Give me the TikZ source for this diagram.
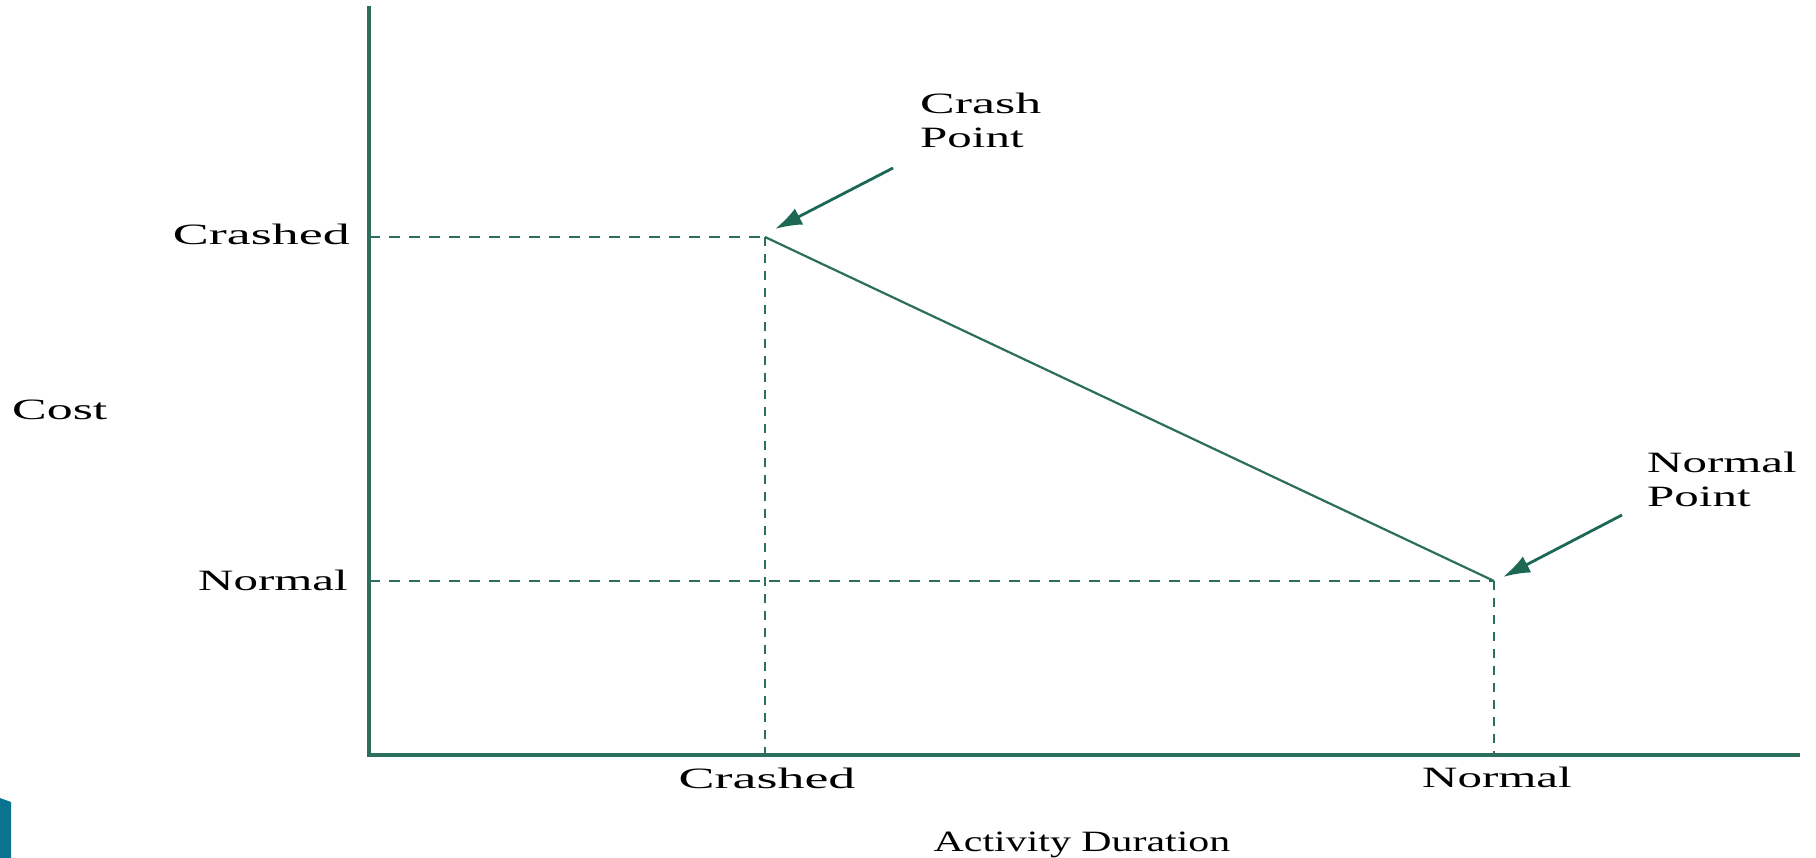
\documentclass[tikz,border=0pt]{standalone}
\usepackage{fontspec}
\newfontfamily\widefont[FakeStretch=1.83]{Liberation Serif}
\newfontfamily\midfont[FakeStretch=1.76]{Liberation Serif}
\newfontfamily\narrowfont[FakeStretch=1.66]{Liberation Serif}
\newfontfamily\titlefont[FakeStretch=1.42]{Liberation Serif}
\usetikzlibrary{arrows.meta}
\definecolor{axisgreen}{RGB}{44,110,92}
\definecolor{arrowgreen}{RGB}{28,104,84}
\definecolor{slideteal}{RGB}{10,116,144}
\tikzset{
  lbl/.style={font=\fontsize{29.5}{34}\selectfont, text=black, inner sep=0pt},
  axisline/.style={draw=axisgreen, line width=3.2pt},
  costline/.style={draw=axisgreen, line width=2.2pt},
  guideh/.style={draw=axisgreen, line width=2pt, dash pattern=on 11pt off 9pt},
  guidev/.style={draw=axisgreen, line width=2.2pt, dash pattern=on 9pt off 8pt},
  pointer/.style={draw=arrowgreen, line width=2.8pt, -{Latex[length=27pt,width=18pt]}}
}
\begin{document}
\begin{tikzpicture}[x=1pt,y=-1pt]
\useasboundingbox (0,0) rectangle (1816,858);
% corner tab of the slide
\fill[slideteal] (0,798) -- (11,802) -- (11,858) -- (0,858) -- cycle;

% key points
\coordinate (O) at (369,755);
\coordinate (ytop) at (369,8);
\coordinate (xend) at (1798,755);
\coordinate (crash) at (765,237);
\coordinate (normal) at (1494,581);
\coordinate (crashY) at (369,237);
\coordinate (normalY) at (369,581);
\coordinate (crashX) at (765,755);
\coordinate (normalX) at (1494,755);

% guide lines
\draw[guideh] (crashY) -- (crash);
\draw[guideh] (normalY) -- (normal);
\draw[guidev] (crash) -- (crashX);
\draw[guidev] (normal) -- (normalX);

% axes
\draw[axisline, line cap=rect] (ytop) -- (O) -- (xend);

% cost-time line
\draw[costline] (crash) -- (normal);

% axis labels
\node[lbl, anchor=base east] (ycrash) at (350,245) {\widefont Crashed};
\node[lbl, anchor=base east] (ynormal) at (348,590) {\narrowfont Normal};
\node[lbl, anchor=base west] (cost) at (12,420) {\midfont Cost};
\node[lbl, anchor=base] (xcrash) at (767,788) {\widefont Crashed};
\node[lbl, anchor=base] (xnormal) at (1497,787) {\narrowfont Normal};
\node[lbl, anchor=base] (dur) at (1082,851) {\titlefont Activity Duration};

% point callouts
\node[lbl, anchor=base west, align=left] (crashlbl) at (920,148) {{\midfont Crash}\\{\narrowfont Point}};
\node[lbl, anchor=base west, align=left] (normallbl) at (1647,507) {{\narrowfont Normal}\\{\narrowfont Point}};
\coordinate (crashtail) at (893,168);
\coordinate (crashtip) at (775,229);
\coordinate (normaltail) at (1622,515);
\coordinate (normaltip) at (1503,577);
\draw[pointer] (crashtail) -- (crashtip);
\draw[pointer] (normaltail) -- (normaltip);
\end{tikzpicture}
\end{document}
